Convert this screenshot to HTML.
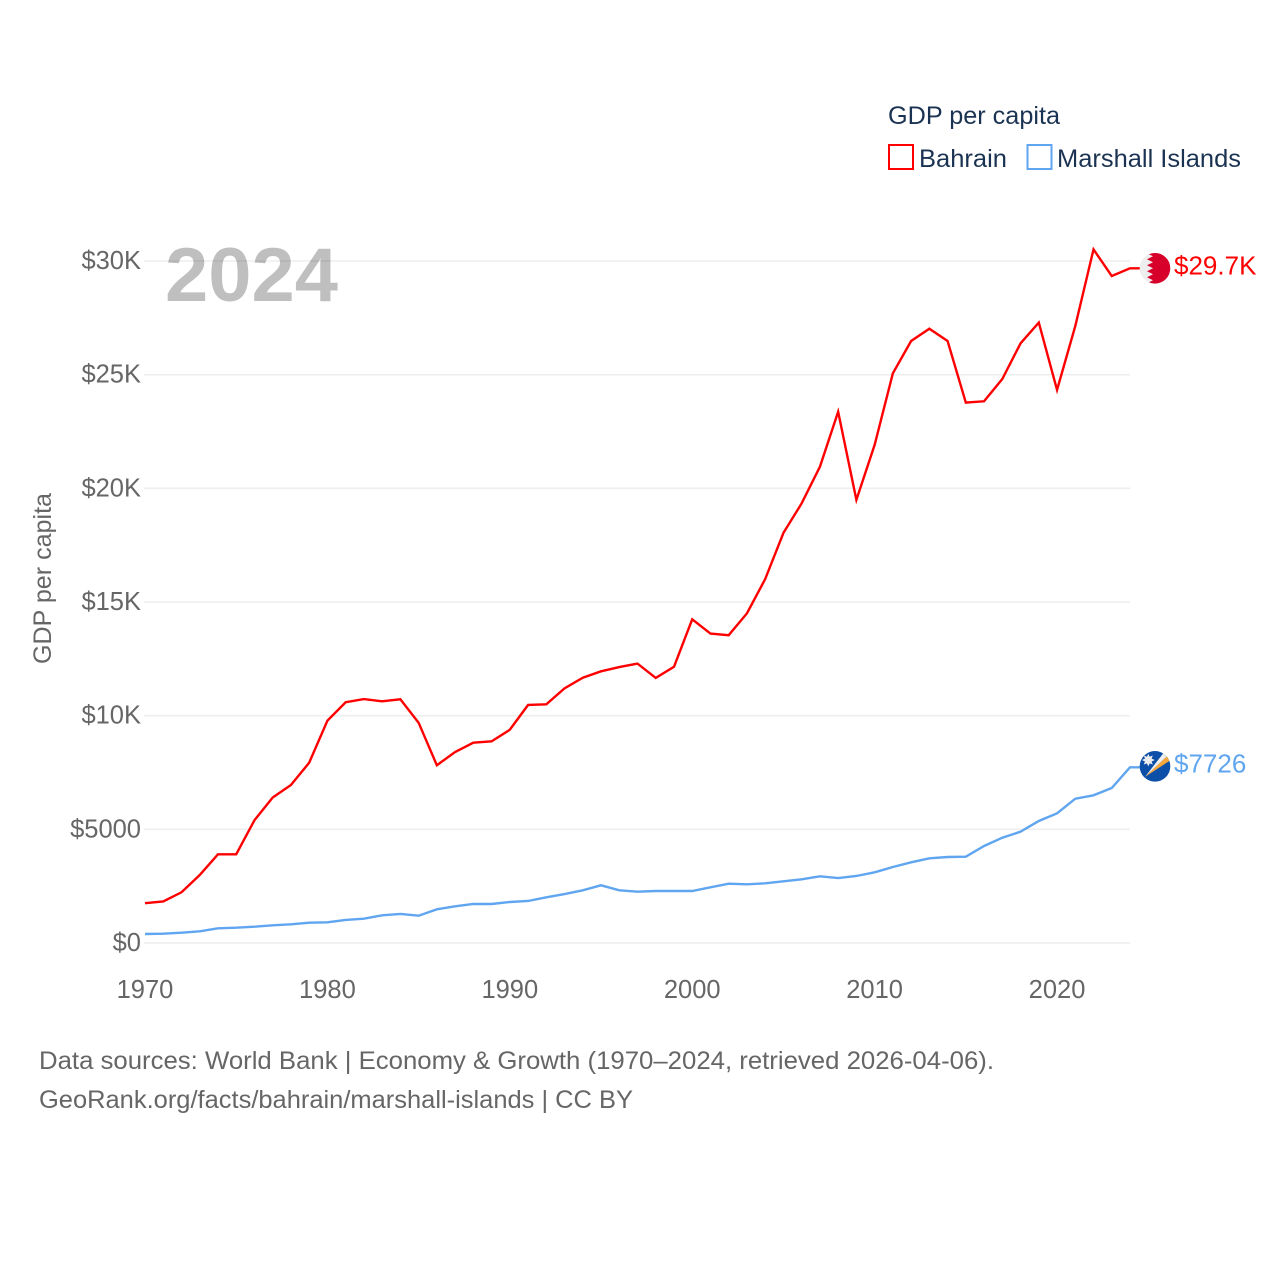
<!DOCTYPE html>
<html lang="en">
<head>
<meta charset="utf-8">
<title>GDP per capita: Bahrain and Marshall Islands</title>
<style>
html,body{margin:0;padding:0;background:#fff;}
svg{display:block;font-family:"Liberation Sans",sans-serif;}
</style>
</head>
<body>
<svg id="chart" xmlns="http://www.w3.org/2000/svg" width="1280" height="1280" viewBox="0 0 1280 1280">
  <rect width="1280" height="1280" fill="#fff"/>
  <g id="grid"></g>
  <g id="yticks"></g>
  <g id="xticks"></g>
  <text x="165" y="301" font-size="76" font-weight="700" fill="#000" fill-opacity="0.25" textLength="173" lengthAdjust="spacingAndGlyphs">2024</text>
  <text transform="translate(51,664) rotate(-90)" font-size="25" fill="#666" textLength="171" lengthAdjust="spacingAndGlyphs">GDP per capita</text>
  <g id="series"></g>

  <g>
    <text x="888" y="124" font-size="25" fill="#1b3352" textLength="172" lengthAdjust="spacingAndGlyphs">GDP per capita</text>
    <g>
      <rect x="889" y="145" width="24" height="24" fill="none" stroke="#ff0000" stroke-width="2"/>
      <text x="919" y="167" font-size="25" fill="#1b3352" textLength="88" lengthAdjust="spacingAndGlyphs">Bahrain</text>
    </g>
    <g>
      <rect x="1027.5" y="145" width="24" height="24" fill="none" stroke="#60a5f0" stroke-width="2"/>
      <text x="1057" y="167" font-size="25" fill="#1b3352" textLength="184" lengthAdjust="spacingAndGlyphs">Marshall Islands</text>
    </g>
  </g>

  <defs>
    <clipPath id="flag-clip"><circle cx="0" cy="0" r="15.3"/></clipPath>
  </defs>

  <g id="flag-bh">
    <g clip-path="url(#flag-clip)">
      <rect x="-16" y="-16" width="32" height="32" fill="#eeeeee"/>
      <polygon fill="#d7002b" points="-8,-16 -8,-15 -2,-12 -8,-9 -2,-6 -8,-3 -2,0 -8,3 -2,6 -8,9 -2,12 -8,15 -8,16 16,16 16,-16"/>
    </g>
  </g>

  <g id="flag-mh">
    <g clip-path="url(#flag-clip)">
      <rect x="-16" y="-16" width="32" height="32" fill="#0b4fa8"/>
      <polygon fill="#eeeeee" points="-10,10.5 9,-14 12.5,-10.5"/>
      <polygon fill="#f7a63a" points="-10,10.5 12.5,-10.5 14.5,-5.5"/>
      <polygon fill="#eeeeee" points="-6.7,-12.5 -5.3,-9.6 -2.2,-10.8 -3.4,-7.7 -0.2,-6.3 -3.4,-4.9 -2.2,-1.8 -5.3,-3 -6.7,0 -8.1,-3 -11.2,-1.8 -10,-4.9 -13.2,-6.3 -10,-7.7 -11.2,-10.8 -8.1,-9.6"/>
    </g>
  </g>

  <text id="label-bh" x="1174" y="275" font-size="26" fill="#ff0000"></text>
  <text id="label-mh" x="1174" y="773" font-size="26" fill="#60a5f0"></text>

  <g>
    <text x="39" y="1069" font-size="25" fill="#666" textLength="955" lengthAdjust="spacingAndGlyphs">Data sources: World Bank | Economy &amp; Growth (1970–2024, retrieved 2026-04-06).</text>
    <text x="39" y="1108" font-size="25" fill="#666" textLength="594" lengthAdjust="spacingAndGlyphs">GeoRank.org/facts/bahrain/marshall-islands | CC BY</text>
  </g>
</svg>

<script>
const years = [1970,1971,1972,1973,1974,1975,1976,1977,1978,1979,1980,1981,1982,1983,1984,1985,1986,1987,1988,1989,1990,1991,1992,1993,1994,1995,1996,1997,1998,1999,2000,2001,2002,2003,2004,2005,2006,2007,2008,2009,2010,2011,2012,2013,2014,2015,2016,2017,2018,2019,2020,2021,2022,2023,2024];
const bahrain = [1750,1830,2230,2990,3900,3900,5400,6400,6950,7930,9780,10590,10730,10630,10720,9690,7820,8400,8810,8870,9380,10470,10500,11200,11670,11950,12140,12290,11660,12150,14240,13610,13540,14500,16010,18040,19340,20950,23370,19490,21910,25060,26480,27020,26480,23770,23830,24810,26380,27290,24330,27140,30510,29340,29680];
const marshallIslands = [396,409,453,515,647,673,717,779,823,893,911,1012,1069,1218,1276,1201,1482,1614,1716,1716,1804,1848,2010,2155,2318,2538,2318,2257,2287,2287,2287,2450,2609,2582,2626,2714,2802,2934,2859,2947,3110,3343,3550,3726,3783,3796,4267,4632,4896,5367,5705,6348,6497,6818,7726];
const yTickValues = [0,5000,10000,15000,20000,25000,30000];
const yTickLabels = ["$0","$5000","$10K","$15K","$20K","$25K","$30K"];
const xTickValues = [1970,1980,1990,2000,2010,2020];
const xTickLabels = ["1970","1980","1990","2000","2010","2020"];

const SVG_NS = "http://www.w3.org/2000/svg";
const xAxis = { d0: 1970, d1: 2024, r0: 145, r1: 1130 };
const yAxis = { d0: 0, d1: 30000, r0: 943, r1: 261 };
function xScale(v) { return xAxis.r0 + (v - xAxis.d0) * (xAxis.r1 - xAxis.r0) / (xAxis.d1 - xAxis.d0); }
function yScale(v) { return yAxis.r0 + (v - yAxis.d0) * (yAxis.r1 - yAxis.r0) / (yAxis.d1 - yAxis.d0); }
function fmt(v) { return v >= 10000 ? "$" + (v / 1000).toFixed(1) + "K" : "$" + Math.round(v); }

const gridLayer = document.getElementById("grid");
const yLayer = document.getElementById("yticks");
const xLayer = document.getElementById("xticks");
const seriesLayer = document.getElementById("series");

yTickValues.forEach(function (v, i) {
  const line = document.createElementNS(SVG_NS, "line");
  
  
  line.setAttribute("x1", xAxis.r0 - 1);
  line.setAttribute("x2", xAxis.r1);
  line.setAttribute("y1", yScale(v));
  line.setAttribute("y2", yScale(v));
  line.setAttribute("stroke", "#eeeeee");
  line.setAttribute("stroke-width", "1.6");
  gridLayer.appendChild(line);

  const t = document.createElementNS(SVG_NS, "text");
  
  
  t.setAttribute("x", 141);
  t.setAttribute("y", yScale(v) + 8);
  t.setAttribute("text-anchor", "end");
  t.setAttribute("font-size", "25.5");
  t.setAttribute("fill", "#666");
  t.textContent = yTickLabels[i];
  yLayer.appendChild(t);
});

xTickValues.forEach(function (v, i) {
  const t = document.createElementNS(SVG_NS, "text");
  
  
  t.setAttribute("x", xScale(v));
  t.setAttribute("y", 998);
  t.setAttribute("text-anchor", "middle");
  t.setAttribute("font-size", "25.5");
  t.setAttribute("fill", "#666");
  t.textContent = xTickLabels[i];
  xLayer.appendChild(t);
});

function linePoints(values) {
  const pts = values.map(function (v, i) { return xScale(years[i]).toFixed(2) + "," + yScale(v).toFixed(2); });
  pts.push((xScale(years[years.length - 1]) + 10).toFixed(2) + "," + yScale(values[values.length - 1]).toFixed(2));
  return pts.join(" ");
}

const lineBh = document.createElementNS(SVG_NS, "polyline");


lineBh.setAttribute("points", linePoints(bahrain));
lineBh.setAttribute("fill", "none");
lineBh.setAttribute("stroke", "#ff0000");
lineBh.setAttribute("stroke-width", "2.4");
lineBh.setAttribute("stroke-linejoin", "miter");
seriesLayer.appendChild(lineBh);

const lineMh = document.createElementNS(SVG_NS, "polyline");


lineMh.setAttribute("points", linePoints(marshallIslands));
lineMh.setAttribute("fill", "none");
lineMh.setAttribute("stroke", "#60a5f0");
lineMh.setAttribute("stroke-width", "2.4");
lineMh.setAttribute("stroke-linejoin", "miter");
seriesLayer.appendChild(lineMh);

const lastBh = bahrain[bahrain.length - 1];
const lastMh = marshallIslands[marshallIslands.length - 1];
document.getElementById("flag-bh").setAttribute("transform", "translate(1155," + yScale(lastBh).toFixed(2) + ")");
document.getElementById("flag-mh").setAttribute("transform", "translate(1155," + (yScale(lastMh) - 1).toFixed(2) + ")");
const labelBh = document.getElementById("label-bh");
labelBh.textContent = fmt(lastBh);
labelBh.setAttribute("y", (yScale(lastBh) + 6).toFixed(2));
const labelMh = document.getElementById("label-mh");
labelMh.textContent = fmt(lastMh);
labelMh.setAttribute("y", (yScale(lastMh) + 5).toFixed(2));
</script>
</body>
</html>
